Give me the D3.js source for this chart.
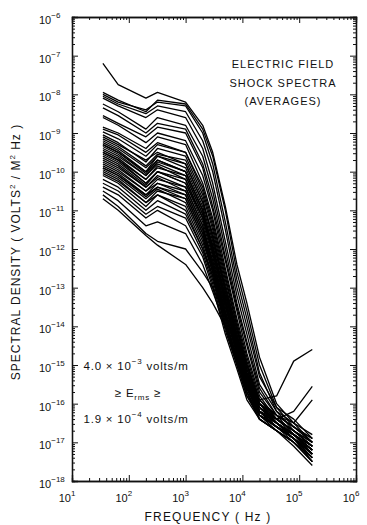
<!DOCTYPE html>
<html>
<head>
<meta charset="utf-8">
<script src="https://cdn.jsdelivr.net/npm/d3@7/dist/d3.min.js"></script>
<style>
  body { margin: 0; background: #fff; }
  svg { display: block; }
  .axis path, .axis line { stroke: #111; }
  .lbl { font-family: "Liberation Sans", "DejaVu Sans", sans-serif; fill: #111; }
</style>
</head>
<body>
<div id="chart"></div>
<script>
// frequencies (Hz) at which every spectrum is sampled
var freqs = [35, 65, 200, 320, 1000, 2000, 3000, 5000, 8000, 12000, 20000, 40000, 80000, 170000];

// log10 of spectral density (volts^2 / m^2 Hz)
var topSeries = [
  [-7.2, -7.75, -8.1, -7.95, -8.2, -8.8, -9.5, -10.9, -12.4, -13.4, -14.8, -16.0, -16.5, -16.8],
  [-7.95, -8.15, -8.45, -8.15, -8.25, -8.9, -9.6, -11.0, -12.6, -13.6, -15.0, -16.1, -16.4, -16.9],
  [-8.0, -8.2, -8.4, -8.2, -8.3, -9.0, -9.8, -11.3, -12.8, -13.8, -15.2, -16.2, -16.5, -17.0],
  [-8.05, -8.25, -8.5, -8.3, -8.45, -9.2, -10.0, -11.5, -13.0, -14.0, -15.3, -16.1, -16.6, -16.9],
  [-8.1, -8.3, -8.6, -8.4, -8.6, -9.4, -10.3, -11.8, -13.2, -14.2, -15.5, -16.2, -16.7, -17.1],
  [-8.25, -8.45, -8.9, -8.6, -8.8, -9.6, -10.5, -12.0, -13.4, -14.4, -15.6, -16.3, -16.6, -17.0],
  [-8.35, -8.55, -9.0, -8.75, -8.9, -9.8, -10.7, -12.2, -13.5, -14.5, -15.7, -16.3, -16.8, -17.2],
  [-8.55, -8.75, -9.1, -8.85, -9.0, -9.9, -10.9, -12.3, -13.6, -14.7, -15.8, -16.4, -16.7, -17.1],
  [-8.6, -8.8, -9.25, -9.0, -9.2, -10.1, -11.0, -12.5, -13.8, -14.8, -15.9, -16.4, -16.8, -17.2],
  [-8.85, -9.0, -9.4, -9.1, -9.3, -10.3, -11.2, -12.6, -13.9, -14.9, -16.0, -16.5, -16.9, -17.3],
  [-8.9, -9.05, -9.5, -9.25, -9.5, -10.4, -11.3, -12.7, -14.0, -15.0, -16.0, -16.5, -16.8, -17.2]
];

var bundleSeries = [
  [-8.97, -9.15, -9.6, -9.3, -9.5, -10.5, -11.4, -12.8, -14.0, -15.0, -16.0, -16.4, -16.7, -17.1],
  [-9.05, -9.25, -9.75, -9.4, -9.6, -10.6, -11.5, -12.9, -14.1, -15.1, -16.0, -16.5, -16.8, -17.3],
  [-9.1, -9.3, -9.7, -9.5, -9.8, -10.8, -11.6, -13.0, -14.2, -15.1, -16.1, -16.4, -16.7, -17.0],
  [-9.15, -9.35, -9.85, -9.55, -9.7, -10.7, -11.7, -13.1, -14.2, -15.2, -16.0, -16.3, -16.6, -16.9],
  [-9.2, -9.4, -9.9, -9.6, -9.9, -10.9, -11.8, -13.1, -14.3, -15.2, -16.1, -16.5, -16.9, -17.4],
  [-9.25, -9.45, -10.0, -9.6, -9.8, -10.8, -11.7, -13.0, -14.1, -15.0, -15.9, -16.3, -16.6, -17.0],
  [-9.3, -9.5, -10.05, -9.7, -10.0, -11.0, -11.9, -13.2, -14.3, -15.3, -16.1, -16.5, -16.8, -17.2],
  [-9.35, -9.55, -10.1, -9.8, -10.1, -11.1, -11.9, -13.3, -14.4, -15.3, -16.2, -16.6, -16.9, -17.5],
  [-9.4, -9.6, -10.1, -9.75, -10.0, -11.0, -12.0, -13.2, -14.3, -15.2, -16.0, -16.4, -16.7, -17.1],
  [-9.45, -9.65, -10.2, -9.85, -10.2, -11.2, -12.0, -13.4, -14.4, -15.4, -16.2, -16.5, -16.8, -17.3],
  [-9.5, -9.7, -10.2, -9.9, -10.1, -11.1, -12.1, -13.3, -14.5, -15.3, -16.1, -16.4, -16.7, -17.0],
  [-9.55, -9.75, -10.3, -10.0, -10.3, -11.3, -12.2, -13.5, -14.5, -15.4, -16.2, -16.6, -16.9, -17.4],
  [-9.6, -9.8, -10.35, -10.0, -10.2, -11.2, -12.1, -13.4, -14.4, -15.3, -16.1, -16.5, -16.8, -17.2],
  [-9.65, -9.85, -10.4, -10.1, -10.4, -11.4, -12.3, -13.6, -14.6, -15.5, -16.3, -16.6, -16.9, -17.3],
  [-9.7, -9.9, -10.4, -10.15, -10.5, -11.5, -12.3, -13.5, -14.5, -15.4, -16.2, -16.5, -16.8, -17.1],
  [-9.75, -9.95, -10.5, -10.2, -10.4, -11.4, -12.4, -13.7, -14.7, -15.5, -16.3, -16.7, -17.0, -17.5],
  [-9.8, -10.0, -10.5, -10.3, -10.6, -11.6, -12.4, -13.6, -14.6, -15.5, -16.2, -16.5, -16.8, -17.2],
  [-9.85, -10.05, -10.6, -10.3, -10.5, -11.5, -12.5, -13.8, -14.8, -15.6, -16.3, -16.6, -16.9, -17.3],
  [-9.9, -10.1, -10.65, -10.4, -10.7, -11.7, -12.5, -13.7, -14.7, -15.5, -16.2, -16.6, -17.0, -17.4],
  [-9.95, -10.15, -10.7, -10.45, -10.8, -11.8, -12.6, -13.9, -14.8, -15.6, -16.3, -16.6, -16.9, -17.2],
  [-10.0, -10.2, -10.8, -10.5, -10.7, -11.7, -12.6, -13.8, -14.9, -15.7, -16.4, -16.7, -17.0, -17.5],
  [-10.05, -10.25, -10.8, -10.6, -10.9, -11.9, -12.7, -13.9, -14.8, -15.6, -16.3, -16.5, -16.8, -17.1],
  [-10.1, -10.3, -10.9, -10.6, -11.0, -12.0, -12.7, -14.0, -14.9, -15.7, -16.4, -16.7, -17.0, -17.4],
  [-10.2, -10.4, -11.0, -10.75, -11.1, -12.0, -12.8, -14.0, -15.0, -15.8, -16.4, -16.7, -17.1, -17.6],
  [-10.3, -10.5, -11.1, -10.9, -11.2, -12.1, -12.9, -14.1, -15.0, -15.8, -16.3, -16.6, -16.9, -17.3],
  [-10.4, -10.6, -11.2, -11.0, -11.4, -12.2, -13.0, -14.2, -15.1, -15.9, -16.4, -16.7, -17.0, -17.5]
];

var lowSeries = [
  [-10.5, -10.75, -11.4, -11.3, -11.6, -12.4, -13.1, -14.0, -14.9, -15.7, -16.3, -16.6, -16.8, -17.2],
  [-10.6, -10.9, -11.6, -11.8, -12.0, -12.6, -13.0, -13.7, -14.6, -15.5, -16.2, -16.5, -16.8, -17.1],
  [-10.7, -11.0, -11.65, -11.9, -12.4, -13.0, -13.4, -14.0, -14.8, -15.6, -16.2, -16.6, -16.9, -17.3]
];

var outlierSeries = [
  [-9.5, -9.7, -10.3, -10.0, -10.3, -11.2, -12.1, -13.4, -14.6, -15.4, -15.9, -15.8, -14.9, -14.6],
  [-9.9, -10.1, -10.6, -10.4, -10.6, -11.6, -12.5, -13.7, -14.7, -15.6, -16.2, -16.4, -16.2, -15.55],
  [-9.3, -9.5, -10.0, -9.7, -10.0, -11.0, -12.0, -13.3, -14.4, -15.3, -16.0, -16.3, -16.5, -15.9]
];

var xDecades = [1, 2, 3, 4, 5, 6];
var yDecades = [-6, -7, -8, -9, -10, -11, -12, -13, -14, -15, -16, -17, -18];

var width = 367, height = 525;
var margin = { top: 17, right: 11, bottom: 44, left: 72 };

var svg = d3.select("#chart").append("svg")
  .attr("width", width)
  .attr("height", height);

var x = d3.scaleLog().domain([1e1, 1e6]).range([margin.left, width - margin.right]);
var y = d3.scaleLog().domain([1e-18, 1e-6]).range([height - margin.bottom, margin.top]);

var minorX = [], minorY = [];
xDecades.slice(0, -1).forEach(function (e) {
  for (var k = 2; k < 10; k++) minorX.push(k * Math.pow(10, e));
});
yDecades.slice(1).forEach(function (e) {
  for (var k = 2; k < 10; k++) minorY.push(k * Math.pow(10, e));
});
var majorX = xDecades.map(function (e) { return Math.pow(10, e); });
var majorY = yDecades.map(function (e) { return Math.pow(10, e); });

function drawAxis(gen, pos, ticks, size) {
  svg.append("g")
    .attr("class", "axis")
    .attr("transform", pos)
    .call(gen.tickValues(ticks).tickSize(size).tickFormat(""))
    .call(function (g) {
      g.select(".domain").attr("stroke-width", 1.3);
      g.selectAll(".tick line").attr("stroke-width", 1);
    });
}

var x0 = margin.left, x1 = width - margin.right;
var y0 = height - margin.bottom, y1 = margin.top;

drawAxis(d3.axisBottom(x), "translate(0," + y0 + ")", majorX, -6);
drawAxis(d3.axisBottom(x), "translate(0," + y0 + ")", minorX, -3);
drawAxis(d3.axisTop(x), "translate(0," + y1 + ")", majorX, -6);
drawAxis(d3.axisTop(x), "translate(0," + y1 + ")", minorX, -3);
drawAxis(d3.axisLeft(y), "translate(" + x0 + ",0)", majorY, -6);
drawAxis(d3.axisLeft(y), "translate(" + x0 + ",0)", minorY, -3);
drawAxis(d3.axisRight(y), "translate(" + x1 + ",0)", majorY, -6);
drawAxis(d3.axisRight(y), "translate(" + x1 + ",0)", minorY, -3);

// tick labels: 10 with superscript exponent
svg.append("g").selectAll("text")
  .data(xDecades)
  .enter().append("text")
  .attr("class", "lbl")
  .attr("x", function (e) { return x(Math.pow(10, e)) - 5; })
  .attr("y", y0 + 21)
  .attr("text-anchor", "middle")
  .style("font-size", "11px")
  .each(function (e) {
    var t = d3.select(this);
    t.append("tspan").text("10");
    t.append("tspan").attr("dy", -6).style("font-size", "8px").text(e);
  });

svg.append("g").selectAll("text")
  .data(yDecades)
  .enter().append("text")
  .attr("class", "lbl")
  .attr("x", x0 - 33)
  .attr("y", function (e) { return y(Math.pow(10, e)) + 7; })
  .style("font-size", "11px")
  .each(function (e) {
    var t = d3.select(this);
    t.append("tspan").text("10");
    t.append("tspan").attr("dy", -6).style("font-size", "8px").text("\u2212" + (-e));
  });

// axis titles
svg.append("text")
  .attr("class", "lbl")
  .attr("x", (x0 + x1) / 2 - 6)
  .attr("y", height - 4)
  .attr("text-anchor", "middle")
  .style("font-size", "12px")
  .style("letter-spacing", "1.2px")
  .text("FREQUENCY ( Hz )");

var yt = svg.append("text")
  .attr("class", "lbl")
  .attr("transform", "translate(20," + ((y0 + y1) / 2 + 3) + ") rotate(-90)")
  .attr("text-anchor", "middle")
  .style("font-size", "12px")
  .style("letter-spacing", "1px");
yt.append("tspan").text("SPECTRAL DENSITY ( VOLTS");
yt.append("tspan").attr("dy", -5).style("font-size", "8px").text("2");
yt.append("tspan").attr("dy", 5).text(" / M");
yt.append("tspan").attr("dy", -5).style("font-size", "8px").text("2");
yt.append("tspan").attr("dy", 5).text(" Hz )");

// spectra
var line = d3.line()
  .x(function (d, i) { return x(freqs[i]); })
  .y(function (d) { return y(Math.pow(10, d)); });

var allSeries = topSeries.concat(bundleSeries, lowSeries, outlierSeries);
svg.append("g").selectAll("path")
  .data(allSeries)
  .enter().append("path")
  .attr("d", line)
  .attr("fill", "none")
  .attr("stroke", "#000")
  .attr("stroke-width", 1.3)
  .attr("stroke-linejoin", "round");

// annotations
var title = ["ELECTRIC FIELD", "SHOCK SPECTRA", "(AVERAGES)"];
svg.append("g").selectAll("text")
  .data(title)
  .enter().append("text")
  .attr("class", "lbl")
  .attr("x", 283)
  .attr("y", function (d, i) { return 68 + i * 18.5; })
  .attr("text-anchor", "middle")
  .style("font-size", "11px")
  .style("letter-spacing", "1px")
  .text(function (d) { return d; });

function rangeLine(yy, mant, expo) {
  var t = svg.append("text")
    .attr("class", "lbl")
    .attr("x", 136)
    .attr("y", yy)
    .attr("text-anchor", "middle")
    .style("font-size", "11.5px")
    .style("letter-spacing", "0.8px");
  t.append("tspan").text(mant + " \u00d7 10");
  t.append("tspan").attr("dy", -6).style("font-size", "8px").text(expo);
  t.append("tspan").attr("dy", 6).text(" volts/m");
}
rangeLine(370, "4.0", "\u22123");
rangeLine(423, "1.9", "\u22124");

var mid = svg.append("text")
  .attr("class", "lbl")
  .attr("x", 138)
  .attr("y", 397)
  .attr("text-anchor", "middle")
  .style("font-size", "11.5px")
  .style("letter-spacing", "0.8px");
mid.append("tspan").text("\u2265 E");
mid.append("tspan").attr("dy", 3).style("font-size", "8px").text("rms");
mid.append("tspan").attr("dy", -3).text(" \u2265");
</script>
</body>
</html>
